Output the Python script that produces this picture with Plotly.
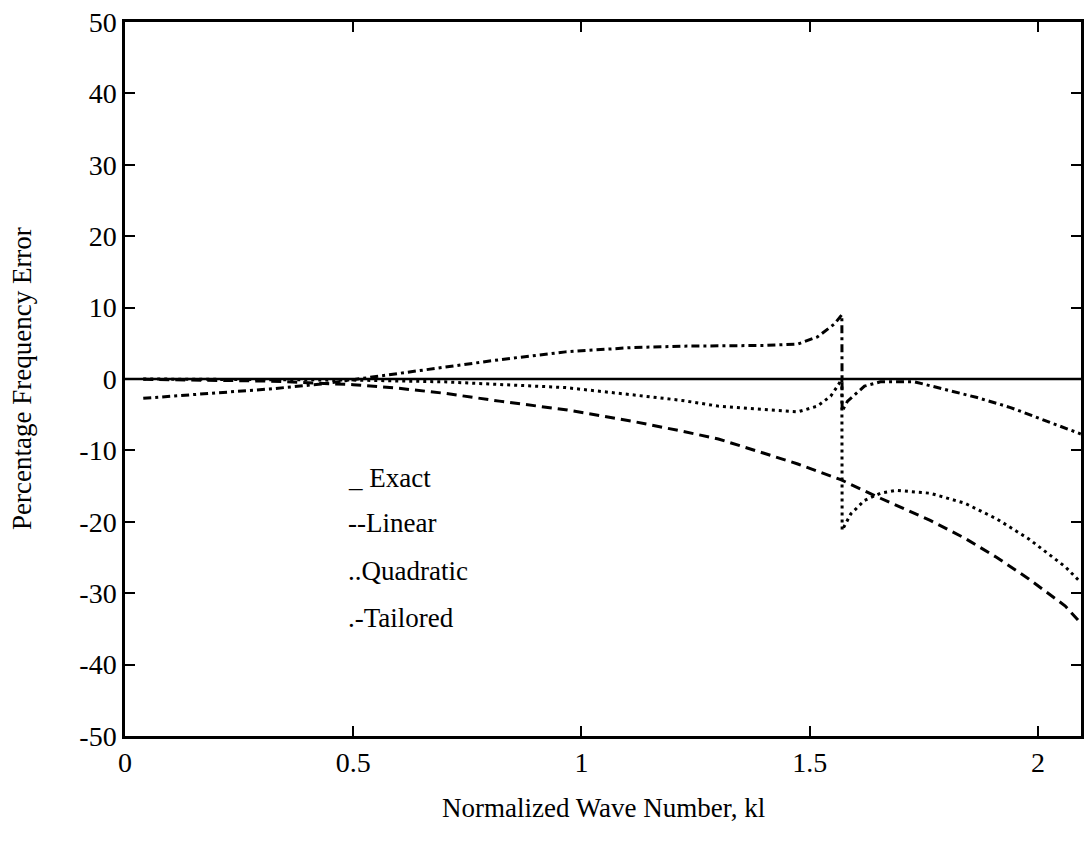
import math
import plotly.graph_objects as go

# Normalized wave number kl and percentage frequency error for each element type
k_max = 2 * math.pi / 3

k_exact = [0.0, k_max]
err_exact = [0.0, 0.0]

k_linear = [0.04, 0.2, 0.32, 0.5, 0.6, 0.7, 0.82, 0.965, 1.11, 1.22, 1.30, 1.40,
            1.474, 1.568, 1.655, 1.764, 1.84, 1.91, 1.98, 2.06, 2.094]
err_linear = [-0.05, -0.15, -0.3, -0.8, -1.3, -2.0, -3.1, -4.3, -5.9, -7.3, -8.4, -10.4,
              -11.9, -14.1, -16.7, -19.8, -22.3, -25.0, -28.0, -31.8, -34.2]

k_quad = [0.04, 0.3, 0.5, 0.7, 0.8, 0.965, 1.11, 1.22, 1.30, 1.40, 1.474, 1.517,
          1.546, 1.561, 1.5705, 1.5711, 1.59, 1.62, 1.655, 1.69, 1.764, 1.84, 1.91,
          1.98, 2.06, 2.094]
err_quad = [0.0, -0.05, -0.15, -0.4, -0.7, -1.2, -2.2, -3.0, -3.8, -4.3, -4.6, -3.8,
            -2.4, -1.0, 0.0, -21.2, -18.9, -17.0, -16.0, -15.6, -16.0, -17.4, -19.6,
            -22.4, -26.3, -28.5]

k_tail = [0.04, 0.15, 0.317, 0.43, 0.5, 0.6, 0.7, 0.82, 0.965, 1.11, 1.22, 1.30,
          1.40, 1.474, 1.517, 1.554, 1.5705, 1.5711, 1.583, 1.62, 1.655, 1.73, 1.795,
          1.867, 1.94, 2.01, 2.094]
err_tail = [-2.7, -2.2, -1.4, -0.7, -0.1, 0.8, 1.7, 2.7, 3.8, 4.4, 4.6, 4.6,
            4.7, 4.9, 5.9, 7.7, 9.0, -4.5, -3.1, -1.0, -0.4, -0.4, -1.4,
            -2.6, -4.0, -5.7, -7.7]

legend_labels = ["_ Exact", "--Linear", "..Quadratic", ".-Tailored"]
legend_y = [-13.9, -20.2, -26.9, -33.5]
legend_x = 0.485

x_ticks = [0, 0.5, 1, 1.5, 2]
x_tick_text = ["0", "0.5", "1", "1.5", "2"]
y_ticks = [-50, -40, -30, -20, -10, 0, 10, 20, 30, 40, 50]
y_tick_text = ["-50", "-40", "-30", "-20", "-10", "0", "10", "20", "30", "40", "50"]

FONT = "Liberation Serif, Times New Roman, serif"
INK = "black"

fig = go.Figure()
fig.add_trace(go.Scatter(x=k_exact, y=err_exact, mode="lines",
                         line=dict(color=INK, width=2.5)))
fig.add_trace(go.Scatter(x=k_linear, y=err_linear, mode="lines",
                         line=dict(color=INK, width=3, dash="10px,6px")))
fig.add_trace(go.Scatter(x=k_quad, y=err_quad, mode="lines",
                         line=dict(color=INK, width=3, dash="3px,4px")))
fig.add_trace(go.Scatter(x=k_tail, y=err_tail, mode="lines",
                         line=dict(color=INK, width=3, dash="8px,4px,3px,4px")))

for label, yv in zip(legend_labels, legend_y):
    fig.add_annotation(x=legend_x, y=yv, xref="x", yref="y", text=label,
                       showarrow=False, xanchor="left", yanchor="middle",
                       font=dict(family=FONT, size=27, color=INK))

fig.add_annotation(x=0.5, y=0, xref="paper", yref="paper",
                   text="Normalized Wave Number, kl", showarrow=False,
                   xanchor="center", yanchor="middle", yshift=-72,
                   font=dict(family=FONT, size=27, color=INK))
fig.add_annotation(x=0, y=0.5, xref="paper", yref="paper",
                   text="Percentage Frequency Error", showarrow=False,
                   textangle=-90, xanchor="center", yanchor="middle", xshift=-103,
                   font=dict(family=FONT, size=27, color=INK))

axis_common = dict(showline=True, linecolor=INK, linewidth=2.5, mirror="ticks",
                   ticks="inside", ticklen=10, tickwidth=2, tickcolor=INK,
                   showgrid=False, zeroline=False,
                   tickfont=dict(family=FONT, size=28, color=INK))

fig.update_xaxes(range=[0, k_max], tickvals=x_ticks, ticktext=x_tick_text, **axis_common)
fig.update_yaxes(range=[-50, 50], tickvals=y_ticks, ticktext=y_tick_text, **axis_common)

fig.update_layout(width=1089, height=843, showlegend=False,
                  margin=dict(l=125, r=5, t=22, b=107),
                  paper_bgcolor="white", plot_bgcolor="white")

fig.write_html("out.html")
